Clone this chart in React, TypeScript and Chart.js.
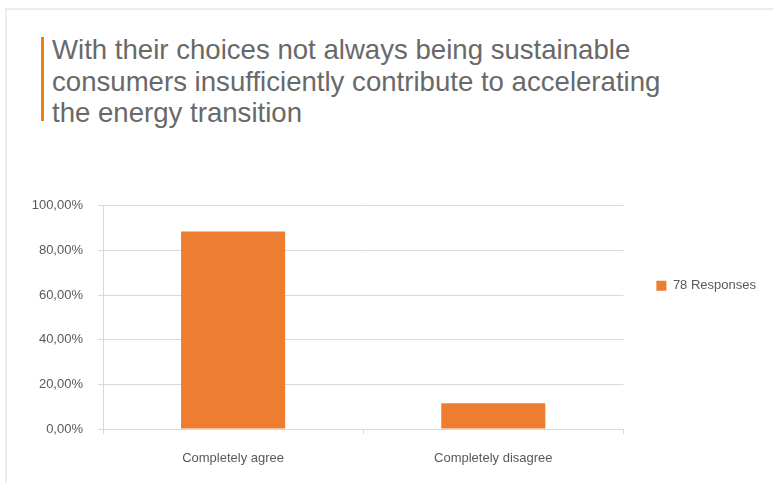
import React, { useEffect, useRef } from "react";
import { Chart, registerables } from "chart.js";

Chart.register(...registerables);

const titleLines = [
  "With their choices not always being sustainable",
  "consumers insufficiently contribute to accelerating",
  "the energy transition",
];
const categories = ["Completely agree", "Completely disagree"];
const seriesLabel = "78 Responses";
const seriesValues = [88.46, 11.54];
const yTicks = [0, 20, 40, 60, 80, 100];

const ORANGE = "#ED7D31";
const FONT = "'Liberation Sans', Arial, Helvetica, sans-serif";

export default function App() {
  const ref = useRef<HTMLCanvasElement | null>(null);

  useEffect(() => {
    if (!ref.current) return;
    const legendPlacer = {
      id: "legendPlacer",
      afterLayout(chart: any) {
        const l = chart.legend;
        if (!l) return;
        const top = chart.chartArea.top;
        l.top = top;
        l.bottom = top + 160;
      },
    };
    const chart = new Chart(ref.current, {
      type: "bar",
      data: {
        labels: categories,
        datasets: [
          {
            label: seriesLabel,
            data: seriesValues,
            backgroundColor: ORANGE,
            borderWidth: 0,
            barPercentage: 0.4,
            categoryPercentage: 1,
          },
        ],
      },
      options: {
        animation: false,
        responsive: false,
        maintainAspectRatio: false,
        layout: { padding: { left: 32, right: 7, top: 8, bottom: 15 } },
        plugins: {
          tooltip: { enabled: false },
          legend: {
            position: "right",
            labels: {
              boxWidth: 10,
              boxHeight: 10,
              padding: 33,
              color: "#595959",
              font: { family: FONT, size: 13 },
            },
          },
        },
        scales: {
          x: {
            grid: {
              display: true,
              drawOnChartArea: false,
              drawTicks: true,
              tickLength: 5,
              color: "#d9d9d9",
              offset: true,
            },
            border: { display: true, color: "#d9d9d9" },
            ticks: {
              color: "#595959",
              padding: 17,
              font: { family: FONT, size: 13 },
            },
            afterFit: (s: any) => {
              s.height = 36;
            },
          },
          y: {
            min: 0,
            max: 100,
            afterBuildTicks: (s: any) => {
              s.ticks = yTicks.map((v) => ({ value: v }));
            },
            grid: {
              color: "#d9d9d9",
              tickLength: 5,
              drawTicks: true,
            },
            border: { display: true, color: "#d9d9d9" },
            ticks: {
              color: "#595959",
              padding: 15,
              font: { family: FONT, size: 13 },
              callback: (v: any) => Number(v).toFixed(2).replace(".", ",") + "%",
            },
            afterFit: (s: any) => {
              s.width = 71;
            },
          },
        },
      },
      plugins: [legendPlacer],
    });
    return () => chart.destroy();
  }, []);

  return (
    <div
      style={{
        position: "fixed",
        left: 0,
        top: 0,
        width: 773,
        height: 483,
        overflow: "hidden",
        background: "#ffffff",
      }}
    >
      <div
        style={{
          position: "absolute",
          left: 5,
          top: 8,
          width: 820,
          height: 520,
          borderTop: "2px solid #ededed",
          borderLeft: "2px solid #ededed",
          background: "#ffffff",
        }}
      />
      <div
        style={{
          position: "absolute",
          left: 41,
          top: 37,
          width: 3,
          height: 84,
          background: "#F07F09",
        }}
      />
      <div
        style={{
          position: "absolute",
          left: 52,
          top: 34,
          fontFamily: FONT,
          fontSize: 27.6,
          lineHeight: "31.5px",
          color: "#696969",
          whiteSpace: "nowrap",
        }}
      >
        {titleLines.map((t, i) => (
          <div key={i}>{t}</div>
        ))}
      </div>
      <canvas
        ref={ref}
        width={773}
        height={297}
        style={{ position: "absolute", left: 0, top: 183, width: 773, height: 297 }}
      />
    </div>
  );
}
